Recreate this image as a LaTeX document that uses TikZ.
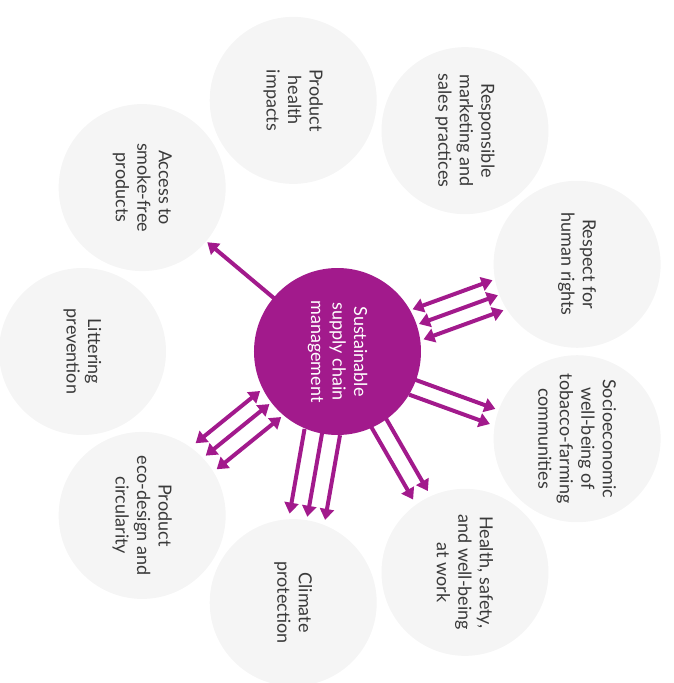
\documentclass[tikz,border=0pt]{standalone}
\usepackage{fontspec}
\setmainfont{Lato}
\usepackage{tikz}
\usetikzlibrary{arrows.meta, calc}
\definecolor{hubpurple}{HTML}{A21A8C}
\definecolor{topicgrey}{HTML}{F5F5F5}
\definecolor{labelgrey}{HTML}{3A3A3A}

\begin{document}
\begin{tikzpicture}[x=1pt, y=1pt,
        topic/.style={circle, fill=topicgrey, minimum size=167pt, inner sep=0pt, align=center, rotate=-90, text=labelgrey, font=\fontsize{18pt}{21.5pt}\selectfont},
        hub/.style={topic, fill=hubpurple, text=white},
        flow/.style={draw=hubpurple, line width=4pt, -{Triangle[length=11pt, width=14pt]}},
        twoway/.style={flow, {Triangle[length=11pt, width=14pt]}-{Triangle[length=11pt, width=14pt]}}
    ]
    \useasboundingbox (-337.5,-331.5) rectangle (335.5,351.5);

    % Knoten
    \node[topic] (litter) at (180:255) {Littering\\prevention};
    \node[topic] (access) at (140:255) {Access to\\smoke-free\\products};
    \node[topic] (health) at (100:255) {Product\\health\\impacts};
    \node[topic] (market) at (60:255) {Responsible\\marketing and\\sales practices};
    \node[topic] (rights) at (20:255) {Respect for\\human rights};
    \node[topic] (farming) at (-20:255) {Socioeconomic\\well-being of\\tobacco-farming\\communities};
    \node[topic] (work) at (-60:255) {Health, safety,\\and well-being\\at work};
    \node[topic] (climate) at (-100:255) {Climate\\protection};
    \node[topic] (design) at (-140:255) {Product\\eco-design and\\circularity};
    \node[hub] (hub) at (0,0) {Sustainable\\supply chain\\management};

    % Pfeile
    \draw[flow] ($(hub)+(140:82)$) -- ($(hub)+(140:170)$);
    \draw[twoway] ($(hub)+(20:85)+(110:14)$) -- ($(hub)+(20:170)+(110:14)$);
    \draw[twoway] ($(hub)+(20:86)+(110:-2)$) -- ($(hub)+(20:170)+(110:-2)$);
    \draw[twoway] ($(hub)+(20:85)+(110:-18)$) -- ($(hub)+(20:170)+(110:-18)$);
    \draw[flow] ($(hub)+(-20:82)$) -- ($(hub)+(-20:168)$);
    \draw[flow] ($(hub)+(-20:82)+(70:-16)$) -- ($(hub)+(-20:168)+(70:-16)$);
    \draw[flow] ($(hub)+(-60:82)+(30:8.5)$) -- ($(hub)+(-60:166)+(30:8.5)$);
    \draw[flow] ($(hub)+(-60:82)+(30:-8.5)$) -- ($(hub)+(-60:166)+(30:-8.5)$);
    \draw[flow] ($(hub)+(-100:82)+(-10:17)$) -- ($(hub)+(-100:168)+(-10:17)$);
    \draw[flow] ($(hub)+(-100:82)+(-10:-1)$) -- ($(hub)+(-100:168)+(-10:-1)$);
    \draw[flow] ($(hub)+(-100:82)+(-10:-19)$) -- ($(hub)+(-100:168)+(-10:-19)$);
    \draw[twoway] ($(hub)+(-141:85)+(-51:15.5)$) -- ($(hub)+(-141:168)+(-51:15.5)$);
    \draw[twoway] ($(hub)+(-141:86)+(-51:-2)$) -- ($(hub)+(-141:168)+(-51:-2)$);
    \draw[twoway] ($(hub)+(-141:85)+(-51:-18)$) -- ($(hub)+(-141:168)+(-51:-18)$);
\end{tikzpicture}
\end{document}
